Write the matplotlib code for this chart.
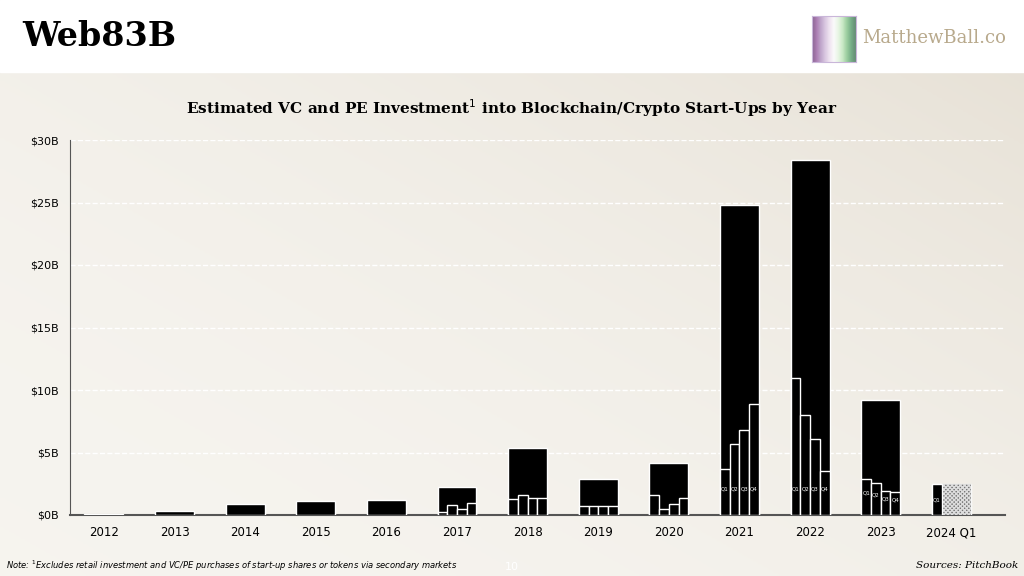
import numpy as np
import matplotlib.pyplot as plt
from matplotlib.patches import Rectangle

years = ['2012', '2013', '2014', '2015', '2016', '2017', '2018', '2019', '2020', '2021', '2022', '2023', '2024 Q1']
annual = [0.1, 0.3, 0.9, 1.1, 1.2, 2.25, 5.35, 2.9, 4.15, 24.8, 28.4, 9.2, 2.5]
quarters = {
    5: [0.25, 0.8, 0.5, 0.95],
    6: [1.3, 1.6, 1.35, 1.4],
    7: [0.75, 0.75, 0.75, 0.7],
    8: [1.6, 0.45, 0.85, 1.4],
    9: [3.7, 5.7, 6.8, 8.9],
    10: [11.0, 8.0, 6.1, 3.5],
    11: [2.9, 2.6, 1.9, 1.85],
}
q_labelled = [9, 10, 11]

fig = plt.figure(figsize=(10.24, 5.76), dpi=100)
# background gradient
bg = fig.add_axes([0, 0, 1, 1], zorder=-10)
gx, gy = np.meshgrid(np.linspace(0, 1, 200), np.linspace(0, 1, 200))
g = np.clip(0.5 * gx + 0.5 * (1 - gy), 0, 1)
c0 = np.array([0.965, 0.957, 0.937])
c1 = np.array([0.90, 0.875, 0.83])
img = c0 + (c1 - c0) * g[..., None] ** 2
bg.imshow(img, extent=[0, 1, 0, 1], aspect='auto', origin='upper')
bg.add_patch(Rectangle((0, 1 - 72 / 576), 1, 72 / 576, color='white', zorder=2))
bg.set_xlim(0, 1); bg.set_ylim(0, 1); bg.axis('off')

fig.text(22 / 1024, 1 - 36 / 576, 'Web83B', fontsize=24, fontweight='bold', family='DejaVu Serif', va='center')
fig.text(862 / 1024, 1 - 38 / 576, 'MatthewBall.co', fontsize=13, family='DejaVu Serif', color='#b8a98c', va='center')
logo = fig.add_axes([812 / 1024, 1 - 62 / 576, 44 / 1024, 46 / 576])
logo.imshow(np.linspace(0, 1, 50)[None, :], cmap='PRGn', aspect='auto', alpha=0.6)
logo.set_xticks([]); logo.set_yticks([])
for s in logo.spines.values():
    s.set_color('#c9b6d9')

ax = fig.add_axes([70 / 1024, 61 / 576, 935 / 1024, 375 / 576])
ax.patch.set_alpha(0)
x = np.arange(len(years))
w = 0.55
ax.bar(x, annual, width=w, color='black', edgecolor='white', linewidth=1, zorder=3)
for i, qs in quarters.items():
    qx = x[i] - w / 2 + w / 8 + np.arange(4) * w / 4
    ax.bar(qx, qs, width=w / 4, color='black', edgecolor='white', linewidth=1, zorder=4)
    if i in q_labelled:
        for k, (xx, v) in enumerate(zip(qx, qs)):
            ax.text(xx, min(v, 3.4) * 0.55 + 0.2, 'Q%d' % (k + 1), color='white', fontsize=4,
                    ha='center', va='center', zorder=5)
# 2024 Q1 split: actual Q1 plus projected remainder
i = 12
ax.bar(x[i] - w / 2 + w / 8, annual[i], width=w / 4, color='black', edgecolor='white', linewidth=1, zorder=4)
ax.bar(x[i] + w / 8, annual[i], width=3 * w / 4, color='#777777', edgecolor='#dddddd',
       hatch='xxxxxxxx', linewidth=0.3, zorder=3)
ax.text(x[i] - w / 2 + w / 8, 1.2, 'Q1', color='white', fontsize=4, ha='center', va='center', zorder=5)

ax.set_xlim(-0.48, 12.76)
ax.set_ylim(0, 30)
ax.set_yticks([0, 5, 10, 15, 20, 25, 30])
ax.set_yticklabels(['$0B', '$5B', '$10B', '$15B', '$20B', '$25B', '$30B'], fontsize=8)
ax.set_xticks(x)
ax.set_xticklabels(years, fontsize=8.5)
ax.yaxis.grid(True, color='white', linestyle='--', linewidth=1, zorder=0)
for s in ['top', 'right']:
    ax.spines[s].set_visible(False)
ax.spines['left'].set_color('#555555')
ax.spines['bottom'].set_color('#555555')
ax.spines['bottom'].set_linewidth(1.5)
ax.tick_params(length=0, pad=8)

fig.text(0.5, 1 - 108 / 576, 'Estimated VC and PE Investment$^1$ into Blockchain/Crypto Start-Ups by Year',
         ha='center', va='center', fontsize=11, fontweight='bold', family='DejaVu Serif')
fig.text(6 / 1024, 1 - 566 / 576, 'Note: $^1$Excludes retail investment and VC/PE purchases of start-up shares or tokens via secondary markets',
         fontsize=6, style='italic', va='center')
fig.text(1018 / 1024, 1 - 566 / 576, 'Sources: PitchBook', fontsize=7.5, style='italic', ha='right',
         va='center', family='DejaVu Serif')
fig.text(512 / 1024, 1 - 567 / 576, '10', fontsize=8, color='white', ha='center', va='center')

plt.savefig('out.png', dpi=100)
